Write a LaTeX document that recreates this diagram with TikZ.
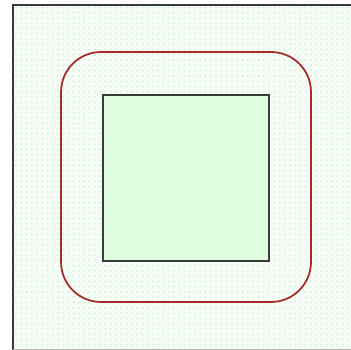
\documentclass[tikz,border=0pt]{standalone}
\usepackage{xcolor}
\usepackage{tikz}
\usetikzlibrary{patterns}
\definecolor{FieldDots}  {HTML}{CCEFCC}
\definecolor{FieldBG}    {HTML}{F6FCF6}
\definecolor{CoreFill}   {HTML}{E0FDE0}
\definecolor{HaloRed}    {HTML}{A52A2A}
\definecolor{FrameGrey}  {HTML}{3A3A3A}
\begin{document}
\begin{tikzpicture}[x=0.02cm,y=-0.02cm,
    core/.style={draw=FrameGrey,fill=CoreFill,line width=1pt,minimum size=3.32cm,inner sep=0pt},
    halo/.style={draw=HaloRed,line width=1pt,rounded corners=0.8cm,minimum size=5cm,inner sep=0pt}]
    \useasboundingbox (0,0) rectangle (350,350);
    % background field
    \fill[FieldBG] (13,5) rectangle (360,349.5);
    \fill[pattern=dots,pattern color=FieldDots] (13,5) rectangle (360,349.5);
    \draw[FrameGrey,line width=1.2pt] (360,5) -- (13,5) -- (13,360);
    \draw[gray!60,line width=0.5pt] (13,349.5) -- (360,349.5);
    % square and its rounded outline
    \node[halo] (halo) at (186,177) {};
    \node[core] (core) at (186,178) {};
  \end{tikzpicture}
\end{document}
